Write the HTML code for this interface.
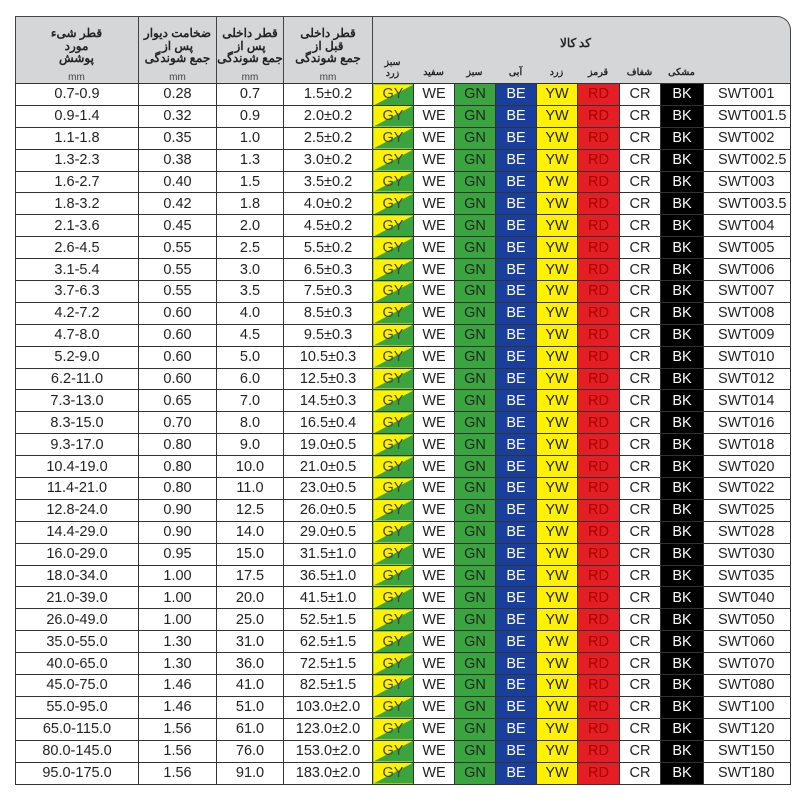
<!DOCTYPE html>
<html><head><meta charset="utf-8"><style>
body{margin:0;width:800px;height:800px;background:#fff;position:relative;overflow:hidden;font-family:"Liberation Sans","DejaVu Sans",sans-serif;}
.hd{position:absolute;top:16px;left:15px;width:776px;height:67px;background:#d5d6d8;border:1px solid #444;border-bottom:none;border-top-right-radius:14px;box-sizing:border-box;}
.hc{position:absolute;top:16px;height:67px;border-left:1px solid #444;text-align:center;font-family:"Liberation Sans","Noto Sans CJK SC",sans-serif;font-size:12px;font-weight:bold;line-height:12.5px;color:#222;box-sizing:border-box;padding-top:11px}
.hc .mm{font-weight:normal;font-size:10px;display:block;margin-top:7px;color:#444}
.lab{position:absolute;top:64px;font-size:9.5px;font-weight:bold;text-align:center;font-family:"Noto Sans CJK SC",sans-serif;color:#222}
table{position:absolute;left:15px;top:83px;border-collapse:collapse;table-layout:fixed;}
td{border:1px solid #333;height:20.9px;padding:0;text-align:center;font-size:14.5px;color:#222;white-space:nowrap;overflow:hidden;line-height:20px}
td:last-child{text-align:left;padding-left:14px}
td.gy{background:linear-gradient(to bottom right,#fff200 49%,#3aa53e 51%);color:#444}
td.gn{background:#3aa53e;color:#222}
td.be{background:#1a3e9c;color:#fff}
td.yw{background:#fff200;color:#222}
td.rd{background:#e41e25;color:#a00}
td.bk{background:#000;color:#fff}
</style></head><body>
<div class="hd"></div>
<div class="hc" style="left:15px;width:123px;border-left:none">قطر شیء<br>مورد<br>پوشش<span class="mm">mm</span></div>
<div class="hc" style="left:138px;width:78px">ضخامت دیوار<br>پس از<br>جمع شوندگی<span class="mm">mm</span></div>
<div class="hc" style="left:216px;width:67px">قطر داخلی<br>پس از<br>جمع شوندگی<span class="mm">mm</span></div>
<div class="hc" style="left:283px;width:89px">قطر داخلی<br>قبل از<br>جمع شوندگی<span class="mm">mm</span></div>
<div class="hc" style="left:372px;width:419px;border-left:1px solid #444"> </div>
<div style="position:absolute;left:560px;top:34px;font-size:12px;font-weight:bold;font-family:'Noto Sans CJK SC',sans-serif;color:#222">کد کالا</div>
<div class="lab" style="left:372px;width:41px;top:56px;line-height:11px">سبز<br>زرد</div>
<div class="lab" style="left:413px;width:41px">سفید</div>
<div class="lab" style="left:454px;width:41px">سبز</div>
<div class="lab" style="left:495px;width:41px">آبی</div>
<div class="lab" style="left:536px;width:41px">زرد</div>
<div class="lab" style="left:577px;width:42px">قرمز</div>
<div class="lab" style="left:619px;width:41px">شفاف</div>
<div class="lab" style="left:660px;width:43px">مشکی</div>
<table>
<colgroup><col style="width:123px"><col style="width:78px"><col style="width:67px"><col style="width:89px"><col style="width:41px"><col style="width:41px"><col style="width:41px"><col style="width:41px"><col style="width:41px"><col style="width:42px"><col style="width:41px"><col style="width:43px"><col style="width:87px"></colgroup>
<tr><td>0.7-0.9</td><td>0.28</td><td>0.7</td><td>1.5±0.2</td><td class="gy">GY</td><td>WE</td><td class="gn">GN</td><td class="be">BE</td><td class="yw">YW</td><td class="rd">RD</td><td>CR</td><td class="bk">BK</td><td>SWT001</td></tr>
<tr><td>0.9-1.4</td><td>0.32</td><td>0.9</td><td>2.0±0.2</td><td class="gy">GY</td><td>WE</td><td class="gn">GN</td><td class="be">BE</td><td class="yw">YW</td><td class="rd">RD</td><td>CR</td><td class="bk">BK</td><td>SWT001.5</td></tr>
<tr><td>1.1-1.8</td><td>0.35</td><td>1.0</td><td>2.5±0.2</td><td class="gy">GY</td><td>WE</td><td class="gn">GN</td><td class="be">BE</td><td class="yw">YW</td><td class="rd">RD</td><td>CR</td><td class="bk">BK</td><td>SWT002</td></tr>
<tr><td>1.3-2.3</td><td>0.38</td><td>1.3</td><td>3.0±0.2</td><td class="gy">GY</td><td>WE</td><td class="gn">GN</td><td class="be">BE</td><td class="yw">YW</td><td class="rd">RD</td><td>CR</td><td class="bk">BK</td><td>SWT002.5</td></tr>
<tr><td>1.6-2.7</td><td>0.40</td><td>1.5</td><td>3.5±0.2</td><td class="gy">GY</td><td>WE</td><td class="gn">GN</td><td class="be">BE</td><td class="yw">YW</td><td class="rd">RD</td><td>CR</td><td class="bk">BK</td><td>SWT003</td></tr>
<tr><td>1.8-3.2</td><td>0.42</td><td>1.8</td><td>4.0±0.2</td><td class="gy">GY</td><td>WE</td><td class="gn">GN</td><td class="be">BE</td><td class="yw">YW</td><td class="rd">RD</td><td>CR</td><td class="bk">BK</td><td>SWT003.5</td></tr>
<tr><td>2.1-3.6</td><td>0.45</td><td>2.0</td><td>4.5±0.2</td><td class="gy">GY</td><td>WE</td><td class="gn">GN</td><td class="be">BE</td><td class="yw">YW</td><td class="rd">RD</td><td>CR</td><td class="bk">BK</td><td>SWT004</td></tr>
<tr><td>2.6-4.5</td><td>0.55</td><td>2.5</td><td>5.5±0.2</td><td class="gy">GY</td><td>WE</td><td class="gn">GN</td><td class="be">BE</td><td class="yw">YW</td><td class="rd">RD</td><td>CR</td><td class="bk">BK</td><td>SWT005</td></tr>
<tr><td>3.1-5.4</td><td>0.55</td><td>3.0</td><td>6.5±0.3</td><td class="gy">GY</td><td>WE</td><td class="gn">GN</td><td class="be">BE</td><td class="yw">YW</td><td class="rd">RD</td><td>CR</td><td class="bk">BK</td><td>SWT006</td></tr>
<tr><td>3.7-6.3</td><td>0.55</td><td>3.5</td><td>7.5±0.3</td><td class="gy">GY</td><td>WE</td><td class="gn">GN</td><td class="be">BE</td><td class="yw">YW</td><td class="rd">RD</td><td>CR</td><td class="bk">BK</td><td>SWT007</td></tr>
<tr><td>4.2-7.2</td><td>0.60</td><td>4.0</td><td>8.5±0.3</td><td class="gy">GY</td><td>WE</td><td class="gn">GN</td><td class="be">BE</td><td class="yw">YW</td><td class="rd">RD</td><td>CR</td><td class="bk">BK</td><td>SWT008</td></tr>
<tr><td>4.7-8.0</td><td>0.60</td><td>4.5</td><td>9.5±0.3</td><td class="gy">GY</td><td>WE</td><td class="gn">GN</td><td class="be">BE</td><td class="yw">YW</td><td class="rd">RD</td><td>CR</td><td class="bk">BK</td><td>SWT009</td></tr>
<tr><td>5.2-9.0</td><td>0.60</td><td>5.0</td><td>10.5±0.3</td><td class="gy">GY</td><td>WE</td><td class="gn">GN</td><td class="be">BE</td><td class="yw">YW</td><td class="rd">RD</td><td>CR</td><td class="bk">BK</td><td>SWT010</td></tr>
<tr><td>6.2-11.0</td><td>0.60</td><td>6.0</td><td>12.5±0.3</td><td class="gy">GY</td><td>WE</td><td class="gn">GN</td><td class="be">BE</td><td class="yw">YW</td><td class="rd">RD</td><td>CR</td><td class="bk">BK</td><td>SWT012</td></tr>
<tr><td>7.3-13.0</td><td>0.65</td><td>7.0</td><td>14.5±0.3</td><td class="gy">GY</td><td>WE</td><td class="gn">GN</td><td class="be">BE</td><td class="yw">YW</td><td class="rd">RD</td><td>CR</td><td class="bk">BK</td><td>SWT014</td></tr>
<tr><td>8.3-15.0</td><td>0.70</td><td>8.0</td><td>16.5±0.4</td><td class="gy">GY</td><td>WE</td><td class="gn">GN</td><td class="be">BE</td><td class="yw">YW</td><td class="rd">RD</td><td>CR</td><td class="bk">BK</td><td>SWT016</td></tr>
<tr><td>9.3-17.0</td><td>0.80</td><td>9.0</td><td>19.0±0.5</td><td class="gy">GY</td><td>WE</td><td class="gn">GN</td><td class="be">BE</td><td class="yw">YW</td><td class="rd">RD</td><td>CR</td><td class="bk">BK</td><td>SWT018</td></tr>
<tr><td>10.4-19.0</td><td>0.80</td><td>10.0</td><td>21.0±0.5</td><td class="gy">GY</td><td>WE</td><td class="gn">GN</td><td class="be">BE</td><td class="yw">YW</td><td class="rd">RD</td><td>CR</td><td class="bk">BK</td><td>SWT020</td></tr>
<tr><td>11.4-21.0</td><td>0.80</td><td>11.0</td><td>23.0±0.5</td><td class="gy">GY</td><td>WE</td><td class="gn">GN</td><td class="be">BE</td><td class="yw">YW</td><td class="rd">RD</td><td>CR</td><td class="bk">BK</td><td>SWT022</td></tr>
<tr><td>12.8-24.0</td><td>0.90</td><td>12.5</td><td>26.0±0.5</td><td class="gy">GY</td><td>WE</td><td class="gn">GN</td><td class="be">BE</td><td class="yw">YW</td><td class="rd">RD</td><td>CR</td><td class="bk">BK</td><td>SWT025</td></tr>
<tr><td>14.4-29.0</td><td>0.90</td><td>14.0</td><td>29.0±0.5</td><td class="gy">GY</td><td>WE</td><td class="gn">GN</td><td class="be">BE</td><td class="yw">YW</td><td class="rd">RD</td><td>CR</td><td class="bk">BK</td><td>SWT028</td></tr>
<tr><td>16.0-29.0</td><td>0.95</td><td>15.0</td><td>31.5±1.0</td><td class="gy">GY</td><td>WE</td><td class="gn">GN</td><td class="be">BE</td><td class="yw">YW</td><td class="rd">RD</td><td>CR</td><td class="bk">BK</td><td>SWT030</td></tr>
<tr><td>18.0-34.0</td><td>1.00</td><td>17.5</td><td>36.5±1.0</td><td class="gy">GY</td><td>WE</td><td class="gn">GN</td><td class="be">BE</td><td class="yw">YW</td><td class="rd">RD</td><td>CR</td><td class="bk">BK</td><td>SWT035</td></tr>
<tr><td>21.0-39.0</td><td>1.00</td><td>20.0</td><td>41.5±1.0</td><td class="gy">GY</td><td>WE</td><td class="gn">GN</td><td class="be">BE</td><td class="yw">YW</td><td class="rd">RD</td><td>CR</td><td class="bk">BK</td><td>SWT040</td></tr>
<tr><td>26.0-49.0</td><td>1.00</td><td>25.0</td><td>52.5±1.5</td><td class="gy">GY</td><td>WE</td><td class="gn">GN</td><td class="be">BE</td><td class="yw">YW</td><td class="rd">RD</td><td>CR</td><td class="bk">BK</td><td>SWT050</td></tr>
<tr><td>35.0-55.0</td><td>1.30</td><td>31.0</td><td>62.5±1.5</td><td class="gy">GY</td><td>WE</td><td class="gn">GN</td><td class="be">BE</td><td class="yw">YW</td><td class="rd">RD</td><td>CR</td><td class="bk">BK</td><td>SWT060</td></tr>
<tr><td>40.0-65.0</td><td>1.30</td><td>36.0</td><td>72.5±1.5</td><td class="gy">GY</td><td>WE</td><td class="gn">GN</td><td class="be">BE</td><td class="yw">YW</td><td class="rd">RD</td><td>CR</td><td class="bk">BK</td><td>SWT070</td></tr>
<tr><td>45.0-75.0</td><td>1.46</td><td>41.0</td><td>82.5±1.5</td><td class="gy">GY</td><td>WE</td><td class="gn">GN</td><td class="be">BE</td><td class="yw">YW</td><td class="rd">RD</td><td>CR</td><td class="bk">BK</td><td>SWT080</td></tr>
<tr><td>55.0-95.0</td><td>1.46</td><td>51.0</td><td>103.0±2.0</td><td class="gy">GY</td><td>WE</td><td class="gn">GN</td><td class="be">BE</td><td class="yw">YW</td><td class="rd">RD</td><td>CR</td><td class="bk">BK</td><td>SWT100</td></tr>
<tr><td>65.0-115.0</td><td>1.56</td><td>61.0</td><td>123.0±2.0</td><td class="gy">GY</td><td>WE</td><td class="gn">GN</td><td class="be">BE</td><td class="yw">YW</td><td class="rd">RD</td><td>CR</td><td class="bk">BK</td><td>SWT120</td></tr>
<tr><td>80.0-145.0</td><td>1.56</td><td>76.0</td><td>153.0±2.0</td><td class="gy">GY</td><td>WE</td><td class="gn">GN</td><td class="be">BE</td><td class="yw">YW</td><td class="rd">RD</td><td>CR</td><td class="bk">BK</td><td>SWT150</td></tr>
<tr><td>95.0-175.0</td><td>1.56</td><td>91.0</td><td>183.0±2.0</td><td class="gy">GY</td><td>WE</td><td class="gn">GN</td><td class="be">BE</td><td class="yw">YW</td><td class="rd">RD</td><td>CR</td><td class="bk">BK</td><td>SWT180</td></tr>
</table>
</body></html>
